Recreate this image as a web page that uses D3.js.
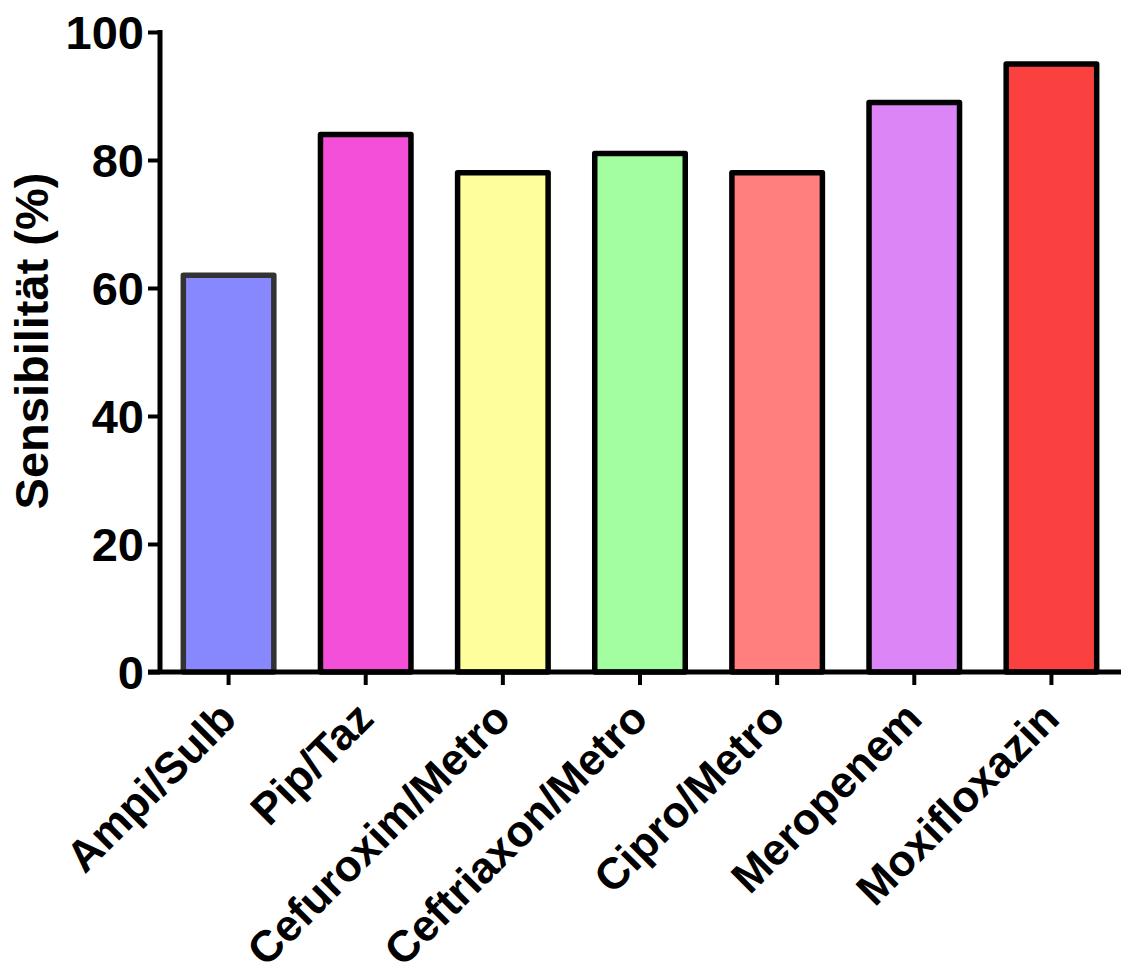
<!DOCTYPE html>
<html><head><meta charset="utf-8">
<script src="https://cdn.jsdelivr.net/npm/d3@7"></script>
<style>body{margin:0;background:#fff}svg{display:block}text{font-family:"Liberation Sans",Arial,sans-serif;font-weight:bold;fill:#000}</style>
</head><body><div id="chart"></div>
<script>
const categories = ["Ampi/Sulb","Pip/Taz","Cefuroxim/Metro","Ceftriaxon/Metro","Cipro/Metro","Meropenem","Moxifloxazin"];
const values = [62, 84, 78, 81, 78, 89, 95];
const colors = ["#8888fe","#f44fd8","#fefe9c","#a3fea0","#ff7f7f","#dc85f6","#fb4040"];
const yTicks = [0, 20, 40, 60, 80, 100];
const yTitle = "Sensibilität (%)";

const W = 1121, H = 979;
const svg = d3.select("#chart").append("svg").attr("width", W).attr("height", H);

const x = d3.scaleBand().domain(categories).range([160, 1120]).paddingInner(0.34).paddingOuter(0.17);
const y = d3.scaleLinear().domain([0, 100]).range([672, 32]);

// bars
svg.selectAll("rect.bar").data(categories).enter().append("rect")
  .attr("class","bar")
  .attr("x", d => x(d))
  .attr("width", x.bandwidth())
  .attr("y", (d,i) => y(values[i]))
  .attr("height", (d,i) => y(0) - y(values[i]))
  .attr("fill", (d,i) => colors[i])
  .attr("stroke", (d,i) => i === 0 ? "#333" : "#000")
  .attr("stroke-width", 5.5)
  .attr("stroke-linejoin", "round");

// y axis
const yAxis = svg.append("g").attr("transform","translate(160,0)")
  .call(d3.axisLeft(y).tickValues(yTicks).tickSize(12).tickPadding(4).tickSizeOuter(0));
yAxis.select(".domain").attr("stroke","#000").attr("stroke-width",5).attr("d","M0,30V674");
yAxis.selectAll(".tick line").attr("stroke","#000").attr("stroke-width",4);
yAxis.selectAll(".tick text").style("font-size","47px").attr("dy","0.36em");

// x axis
const xAxis = svg.append("g").attr("transform","translate(0,672)")
  .call(d3.axisBottom(x).tickSize(13).tickSizeOuter(0).tickFormat(""));
xAxis.select(".domain").attr("stroke","#000").attr("stroke-width",5).attr("d","M148,0H1121");
xAxis.selectAll(".tick line").attr("stroke","#000").attr("stroke-width",4);

// rotated x labels
svg.append("g").selectAll("text").data(categories).enter().append("text")
  .attr("transform", d => `translate(${x(d) + x.bandwidth()/2 + 10},${721}) rotate(-45)`)
  .attr("text-anchor","end")
  .style("font-size","44px")
  .text(d => d);

// y title
svg.append("text")
  .attr("transform","translate(48,341) rotate(-90)")
  .attr("text-anchor","middle")
  .style("font-size","47px")
  .text(yTitle);
</script></body></html>
